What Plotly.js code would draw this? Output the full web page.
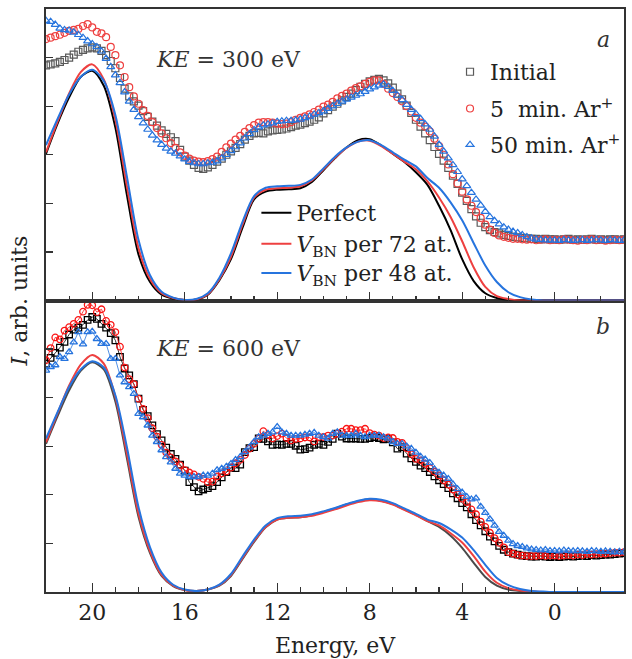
<!DOCTYPE html>
<html><head><meta charset="utf-8">
<script src="https://cdn.plot.ly/plotly-3.0.1.min.js"></script>
<style>
html,body{margin:0;padding:0;background:#fff}
#chart{width:632px;height:659px}
</style>
</head><body><div id="chart"></div>
<script>
// Energy grid of the measured spectra (eV)
const energyExp = [
 22.0,21.8,21.6,21.4,21.2,21.0,20.8,20.6,20.4,20.2,
 20.0,19.8,19.6,19.4,19.2,19.0,18.8,18.6,18.4,18.2,
 18.0,17.8,17.6,17.4,17.2,17.0,16.8,16.6,16.4,16.2,
 16.0,15.8,15.6,15.4,15.2,15.0,14.8,14.6,14.4,14.2,
 14.0,13.8,13.6,13.4,13.2,13.0,12.8,12.6,12.4,12.2,
 12.0,11.8,11.6,11.4,11.2,11.0,10.8,10.6,10.4,10.2,
 10.0,9.8,9.6,9.4,9.2,9.0,8.8,8.6,8.4,8.2,
 8.0,7.8,7.6,7.4,7.2,7.0,6.8,6.6,6.4,6.2,
 6.0,5.8,5.6,5.4,5.2,5.0,4.8,4.6,4.4,4.2,
 4.0,3.8,3.6,3.4,3.2,3.0,2.8,2.6,2.4,2.2,
 2.0,1.8,1.6,1.4,1.2,1.0,0.8,0.6,0.4,0.2,
 0.0,-0.2,-0.4,-0.6,-0.8,-1.0,-1.2,-1.4,-1.6,-1.8,
 -2.0,-2.2,-2.4,-2.6,-2.8,-3.0];

// Panel a (KE = 300 eV), measured
const topInitial = [
 4.84,4.86,4.88,4.91,4.95,5.00,5.06,5.12,5.16,5.19,
 5.21,5.19,5.14,5.05,4.93,4.78,4.58,4.36,4.20,4.10,
 4.01,3.90,3.78,3.68,3.60,3.50,3.43,3.36,3.28,3.10,
 2.96,2.88,2.79,2.73,2.71,2.74,2.79,2.86,2.92,3.00,
 3.07,3.14,3.22,3.31,3.39,3.44,3.45,3.44,3.48,3.50,
 3.51,3.52,3.54,3.57,3.60,3.62,3.65,3.68,3.72,3.77,
 3.85,3.92,3.99,4.05,4.12,4.19,4.26,4.33,4.40,4.46,
 4.51,4.54,4.56,4.53,4.47,4.38,4.26,4.14,4.01,3.86,
 3.72,3.58,3.44,3.30,3.16,3.02,2.88,2.73,2.57,2.40,
 2.22,2.05,1.88,1.73,1.60,1.51,1.45,1.41,1.38,1.35,
 1.33,1.31,1.30,1.29,1.28,1.27,1.27,1.26,1.27,1.26,
 1.26,1.25,1.26,1.27,1.25,1.26,1.25,1.26,1.27,1.25,
 1.26,1.25,1.26,1.26,1.25,1.26];
const top5min = [
 5.38,5.41,5.44,5.47,5.51,5.55,5.57,5.59,5.65,5.69,
 5.62,5.53,5.50,5.42,5.22,5.05,4.84,4.60,4.39,4.20,
 4.05,3.92,3.80,3.67,3.55,3.44,3.34,3.24,3.14,3.05,
 2.98,2.92,2.88,2.86,2.85,2.87,2.91,2.96,3.06,3.15,
 3.23,3.31,3.39,3.47,3.55,3.61,3.66,3.67,3.67,3.66,
 3.64,3.63,3.64,3.67,3.72,3.76,3.79,3.83,3.88,3.93,
 3.99,4.03,4.09,4.16,4.21,4.26,4.32,4.37,4.41,4.46,
 4.50,4.53,4.53,4.46,4.36,4.27,4.19,4.10,4.00,3.89,
 3.76,3.66,3.58,3.48,3.33,3.18,3.00,2.80,2.60,2.41,
 2.24,2.08,1.95,1.82,1.70,1.56,1.46,1.39,1.34,1.31,
 1.29,1.27,1.27,1.26,1.25,1.26,1.24,1.25,1.26,1.24,
 1.25,1.24,1.26,1.25,1.24,1.23,1.25,1.24,1.26,1.24,
 1.25,1.23,1.24,1.25,1.24,1.25];
const top50min = [
 5.76,5.74,5.68,5.60,5.57,5.56,5.52,5.47,5.41,5.34,
 5.28,5.22,5.13,4.98,4.81,4.64,4.48,4.29,4.10,3.93,
 3.78,3.65,3.52,3.40,3.30,3.21,3.13,3.07,3.03,2.97,
 2.91,2.86,2.83,2.81,2.81,2.83,2.84,2.87,2.93,3.00,
 3.08,3.16,3.24,3.34,3.43,3.51,3.57,3.61,3.63,3.65,
 3.68,3.69,3.70,3.70,3.71,3.73,3.76,3.79,3.83,3.86,
 3.90,3.95,4.00,4.05,4.10,4.14,4.18,4.22,4.25,4.30,
 4.35,4.39,4.43,4.45,4.40,4.32,4.22,4.13,4.03,3.93,
 3.84,3.74,3.63,3.52,3.38,3.21,3.07,2.93,2.79,2.65,
 2.50,2.36,2.22,2.08,1.96,1.83,1.72,1.64,1.57,1.51,
 1.46,1.42,1.39,1.35,1.31,1.28,1.26,1.25,1.24,1.24,
 1.24,1.23,1.25,1.24,1.23,1.24,1.25,1.23,1.24,1.25,
 1.24,1.23,1.25,1.24,1.23,1.24];

// Panel b (KE = 600 eV), measured
const botInitial = [
 4.70,4.82,4.92,5.03,5.15,5.30,5.40,5.44,5.50,5.60,
 5.66,5.62,5.52,5.44,5.33,5.18,4.84,4.60,4.46,4.28,
 3.98,3.75,3.62,3.43,3.25,3.12,2.97,2.84,2.74,2.62,
 2.50,2.26,2.16,2.07,2.11,2.14,2.18,2.26,2.36,2.47,
 2.56,2.55,2.62,2.88,2.96,2.98,3.16,3.15,3.10,3.03,
 3.04,3.03,3.05,3.05,3.01,2.93,2.94,2.97,3.03,3.05,
 3.03,3.09,3.15,3.26,3.20,3.16,3.16,3.16,3.15,3.15,
 3.17,3.19,3.17,3.14,3.15,3.08,2.95,2.98,2.85,2.75,
 2.68,2.60,2.55,2.47,2.38,2.30,2.22,2.14,2.03,1.93,
 1.83,1.74,1.60,1.48,1.37,1.25,1.14,1.04,0.95,0.87,
 0.82,0.79,0.77,0.75,0.74,0.73,0.73,0.74,0.73,0.72,
 0.73,0.72,0.73,0.74,0.73,0.74,0.75,0.74,0.76,0.75,
 0.76,0.77,0.77,0.78,0.79,0.80];
const bot5min = [
 4.77,5.02,5.24,5.20,5.38,5.45,5.52,5.60,5.77,5.91,
 5.90,5.76,5.82,5.58,5.50,5.35,5.05,4.62,4.38,4.28,
 3.98,3.77,3.58,3.37,3.20,3.03,2.87,2.77,2.69,2.61,
 2.51,2.46,2.42,2.37,2.33,2.26,2.27,2.38,2.44,2.48,
 2.56,2.65,2.72,2.82,2.95,3.05,3.16,3.31,3.23,3.16,
 3.21,3.26,3.17,3.12,3.15,3.16,3.18,3.18,3.10,3.19,
 3.19,3.22,3.22,3.26,3.30,3.36,3.36,3.33,3.33,3.36,
 3.27,3.24,3.22,3.17,3.18,3.17,3.09,3.07,2.96,2.84,
 2.74,2.71,2.64,2.55,2.48,2.40,2.30,2.21,2.11,2.01,
 1.92,1.85,1.70,1.60,1.45,1.34,1.22,1.11,1.01,0.92,
 0.82,0.79,0.76,0.75,0.74,0.74,0.74,0.75,0.74,0.75,
 0.75,0.74,0.75,0.76,0.75,0.77,0.76,0.78,0.77,0.78,
 0.79,0.79,0.80,0.81,0.81,0.82];
const bot50min = [
 4.56,4.63,4.67,4.84,4.80,4.94,5.14,5.35,5.10,5.35,
 5.36,5.21,5.11,5.11,4.80,4.80,4.46,4.32,4.22,4.08,
 3.67,3.60,3.43,3.22,3.09,2.92,2.78,2.67,2.54,2.44,
 2.40,2.37,2.37,2.37,2.40,2.40,2.44,2.51,2.54,2.58,
 2.64,2.72,2.78,2.88,2.98,3.09,3.19,3.22,3.26,3.29,
 3.40,3.29,3.26,3.22,3.22,3.22,3.24,3.26,3.28,3.22,
 3.19,3.16,3.26,3.29,3.22,3.22,3.22,3.26,3.22,3.19,
 3.22,3.22,3.22,3.19,3.16,3.09,3.05,3.05,3.00,2.95,
 2.87,2.79,2.73,2.66,2.53,2.46,2.40,2.33,2.22,2.12,
 2.05,1.96,1.91,1.93,1.76,1.63,1.50,1.37,1.24,1.16,
 1.06,0.99,0.95,0.93,0.90,0.88,0.87,0.86,0.87,0.85,
 0.85,0.84,0.86,0.85,0.84,0.85,0.84,0.83,0.85,0.84,
 0.83,0.84,0.83,0.82,0.83,0.82];

// Energy grid of the calculated curves (eV)
const energyCalc = [
 22.0,21.5,21.0,20.5,20.0,19.5,19.0,18.5,18.0,17.5,
 17.0,16.5,16.0,15.5,15.0,14.5,14.0,13.5,13.0,12.5,
 12.0,11.5,11.0,10.5,10.0,9.5,9.0,8.5,8.0,7.5,
 7.0,6.5,6.0,5.5,5.0,4.5,4.0,3.5,3.0,2.5,
 2.0,1.5,1.0,0.5,0.0,-0.5,-1.0,-1.5,-2.0,-2.5,-3.0];

// Panel a, calculated
const topPerfect = [
 3.02,3.64,4.18,4.60,4.73,4.42,3.56,2.17,0.95,0.38,
 0.12,0.04,0.01,0.02,0.12,0.42,0.85,1.50,2.08,2.24,
 2.28,2.29,2.31,2.44,2.68,2.93,3.15,3.30,3.32,3.19,
 3.02,2.85,2.64,2.38,1.95,1.45,0.85,0.40,0.15,0.05,
 0.01,0,0,0,0,0,0,0,0,0,0];
const topV72 = [
 3.05,3.68,4.26,4.70,4.86,4.55,3.72,2.35,1.08,0.44,
 0.15,0.05,0.01,0.02,0.13,0.44,0.90,1.56,2.12,2.28,
 2.31,2.32,2.35,2.47,2.70,2.94,3.14,3.27,3.29,3.18,
 3.02,2.86,2.70,2.45,2.12,1.72,1.22,0.68,0.28,0.09,
 0.03,0,0,0,0,0,0,0,0,0,0];
const topV48 = [
 3.20,3.74,4.24,4.60,4.75,4.52,3.82,2.55,1.25,0.52,
 0.18,0.06,0.01,0.03,0.15,0.47,0.97,1.62,2.15,2.32,
 2.35,2.36,2.38,2.49,2.72,2.96,3.15,3.27,3.30,3.20,
 3.05,2.90,2.76,2.52,2.32,2.02,1.65,1.18,0.72,0.38,
 0.17,0.07,0.02,0,0,0,0,0,0,0,0];

// Panel b, calculated
const botPerfect = [
 3.05,3.62,4.15,4.55,4.73,4.58,3.92,2.75,1.55,0.80,
 0.33,0.12,0.04,0.02,0.05,0.13,0.33,0.68,1.03,1.33,
 1.49,1.53,1.54,1.58,1.65,1.72,1.80,1.87,1.91,1.88,
 1.81,1.70,1.59,1.46,1.34,1.16,0.91,0.60,0.31,0.13,
 0.05,0.02,0.01,0,0,0,0,0,0,0,0];
const botV72 = [
 3.08,3.68,4.25,4.68,4.88,4.70,4.02,2.85,1.62,0.84,
 0.35,0.13,0.04,0.02,0.05,0.14,0.35,0.70,1.05,1.34,
 1.49,1.53,1.54,1.57,1.63,1.70,1.78,1.85,1.89,1.87,
 1.80,1.69,1.58,1.46,1.37,1.21,1.02,0.74,0.42,0.19,
 0.08,0.03,0.01,0,0,0,0,0,0,0,0];
const botV48 = [
 3.16,3.70,4.22,4.58,4.75,4.62,4.05,2.98,1.75,0.92,
 0.40,0.15,0.05,0.02,0.05,0.15,0.37,0.73,1.08,1.37,
 1.52,1.56,1.57,1.60,1.66,1.73,1.81,1.88,1.92,1.90,
 1.83,1.72,1.61,1.49,1.42,1.29,1.12,0.86,0.56,0.29,
 0.14,0.06,0.02,0.01,0,0,0,0,0,0,0];

const expNames = ['Initial', '5\u00A0 min. Ar<sup>+</sup>', '50 min. Ar<sup>+</sup>'];
const calcNames = ['Perfect', '<i>V</i><sub>BN</sub> per 72 at.', '<i>V</i><sub>BN</sub> per 48 at.'];

const FONT = 'DejaVu Serif';
const FS = 22;
const TXT = '#222';
const AX = '#333';

const cGrayTop = 'rgb(90,90,90)';
const cRed = 'rgb(238,64,64)';
const cBlue = 'rgb(38,116,222)';

const traces = [];
const expSym = ['square-open', 'circle-open', 'triangle-up-open'];
// ---- top panel: measured (legend, legend2, legend3)
const topExp = [topInitial, top5min, top50min];
const topExpCol = [cGrayTop, cRed, cBlue];
const expLegends = ['legend', 'legend2', 'legend3'];
topExp.forEach((ys, i) => traces.push({
  x: energyExp, y: ys, xaxis: 'x2', yaxis: 'y2', type: 'scatter', mode: 'markers',
  name: expNames[i], legend: expLegends[i],
  marker: {symbol: expSym[i], size: 7, color: topExpCol[i], line: {width: 1.2, color: topExpCol[i]}}
}));
// ---- top panel: calculated (legend4..6)
const topCalc = [topPerfect, topV72, topV48];
const calcColTop = ['#000000', cRed, cBlue];
const calcLegends = ['legend4', 'legend5', 'legend6'];
topCalc.forEach((ys, i) => traces.push({
  x: energyCalc, y: ys, xaxis: 'x2', yaxis: 'y2', type: 'scatter', mode: 'lines',
  name: calcNames[i], legend: calcLegends[i],
  line: {color: calcColTop[i], width: 2, shape: 'spline', smoothing: 0.8}
}));
// ---- bottom panel: measured
const botExp = [botInitial, bot5min, bot50min];
const botExpCol = ['#000000', 'rgb(250,20,20)', cBlue];
botExp.forEach((ys, i) => traces.push({
  x: energyExp, y: ys, xaxis: 'x', yaxis: 'y', type: 'scatter', mode: 'lines+markers',
  showlegend: false,
  line: {color: botExpCol[i], width: 0.8},
  marker: {symbol: expSym[i], size: 6.5, color: botExpCol[i], line: {width: 1.3, color: botExpCol[i]}}
}));
// ---- bottom panel: calculated
const botCalc = [botPerfect, botV72, botV48];
const calcColBot = ['#4a4a4a', cRed, cBlue];
botCalc.forEach((ys, i) => traces.push({
  x: energyCalc, y: ys, xaxis: 'x', yaxis: 'y', type: 'scatter', mode: 'lines',
  showlegend: false,
  line: {color: calcColBot[i], width: 2, shape: 'spline', smoothing: 0.8}
}));

const xCommon = {
  range: [22, -3], tick0: 0, dtick: 4, ticks: 'inside', ticklen: 9, tickwidth: 1.2, tickcolor: AX,
  minor: {dtick: 1, ticks: 'inside', ticklen: 5, tickwidth: 1.2, tickcolor: AX},
  showline: true, mirror: true, linecolor: AX, linewidth: 2,
  showgrid: false, zeroline: false
};
const yCommon = {
  range: [0, 6], dtick: 1, tick0: 0, ticks: 'inside', ticklen: 7, tickwidth: 1.2, tickcolor: AX,
  showticklabels: false, showline: true, mirror: true, linecolor: AX, linewidth: 2,
  showgrid: false, zeroline: false
};

function legendAt(x, y) {
  return {x: x, y: y, xanchor: 'left', yanchor: 'middle', bgcolor: 'rgba(0,0,0,0)',
    borderwidth: 0, font: {family: FONT, size: FS, color: TXT}};
}

const layout = {
  width: 632, height: 659,
  margin: {l: 46, r: 6, t: 9, b: 67},
  paper_bgcolor: '#fff', plot_bgcolor: '#fff',
  font: {family: FONT, size: FS, color: TXT},
  showlegend: true,
  xaxis: Object.assign({}, xCommon, {anchor: 'y', domain: [0, 1],
    tickfont: {family: FONT, size: FS, color: TXT},
    title: {text: 'Energy, eV', font: {family: FONT, size: FS, color: TXT}, standoff: 13}}),
  xaxis2: Object.assign({}, xCommon, {anchor: 'y2', domain: [0, 1], matches: 'x', showticklabels: false}),
  yaxis: Object.assign({}, yCommon, {anchor: 'x', domain: [0, 0.5]}),
  yaxis2: Object.assign({}, yCommon, {anchor: 'x2', domain: [0.5, 1]}),
  legend: legendAt(0.699, 0.892),
  legend2: legendAt(0.699, 0.829),
  legend3: legendAt(0.699, 0.767),
  legend4: legendAt(0.364, 0.650),
  legend5: legendAt(0.364, 0.597),
  legend6: legendAt(0.364, 0.547),
  annotations: [
    {text: '<i>I</i>, arb. units', xref: 'paper', yref: 'paper', x: -0.045, y: 0.5,
     xanchor: 'center', yanchor: 'middle', textangle: -90, showarrow: false,
     font: {family: FONT, size: FS, color: TXT}},
    {text: '<i>KE</i> = 300 eV', xref: 'paper', yref: 'paper', x: 0.187, y: 0.913,
     xanchor: 'left', yanchor: 'middle', showarrow: false, font: {family: FONT, size: FS, color: '#333'}},
    {text: '<i>KE</i> = 600 eV', xref: 'paper', yref: 'paper', x: 0.187, y: 0.417,
     xanchor: 'left', yanchor: 'middle', showarrow: false, font: {family: FONT, size: FS, color: '#333'}},
    {text: '<i>a</i>', xref: 'paper', yref: 'paper', x: 0.964, y: 0.947,
     xanchor: 'center', yanchor: 'middle', showarrow: false, font: {family: FONT, size: FS, color: '#333'}},
    {text: '<i>b</i>', xref: 'paper', yref: 'paper', x: 0.964, y: 0.456,
     xanchor: 'center', yanchor: 'middle', showarrow: false, font: {family: FONT, size: FS, color: '#333'}}
  ]
};

Plotly.newPlot('chart', traces, layout, {staticPlot: true, displayModeBar: false});
</script>
</body></html>
